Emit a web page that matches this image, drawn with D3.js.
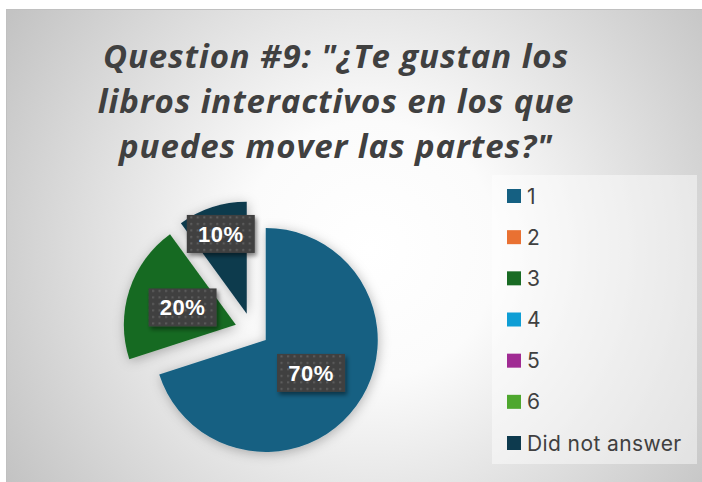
<!DOCTYPE html>
<html>
<head>
<meta charset="utf-8">
<script src="https://cdnjs.cloudflare.com/ajax/libs/d3/7.8.5/d3.min.js"></script>
<style>
  body { margin: 0; background: #fff; }
  svg { display: block; }
</style>
</head>
<body>
<div class="chart"></div>
<script>
// data
var categories = ["1", "2", "3", "4", "5", "6", "Did not answer"];
var values = [70, 0, 20, 0, 0, 0, 10];
var colors = ["#156082", "#E97132", "#196B24", "#0F9ED5", "#A02B93", "#4EA72E", "#0D3A4E"];
var titleLines = ['Question #9: "¿Te gustan los', 'libros interactivos en los que', 'puedes mover las partes?"'];

var W = 702, H = 482;
let svg = d3.select("div.chart").append("svg").attr("width", W).attr("height", H);
var defs = svg.append("defs");

// background gradient
var bg = defs.append("radialGradient").attr("id", "bg")
  .attr("gradientUnits", "userSpaceOnUse")
  .attr("cx", 370).attr("cy", 250).attr("r", 430);
bg.append("stop").attr("offset", "0").attr("stop-color", "#ffffff");
bg.append("stop").attr("offset", "0.3").attr("stop-color", "#fbfbfb");
bg.append("stop").attr("offset", "1").attr("stop-color", "#c3c3c3");

// dotted pattern for data labels
var pat = defs.append("pattern").attr("id", "dots")
  .attr("patternUnits", "userSpaceOnUse").attr("width", 6.5).attr("height", 6.5);
pat.append("rect").attr("width", 6.5).attr("height", 6.5).attr("fill", "#404040");
pat.append("rect").attr("x", 2).attr("y", 2).attr("width", 2).attr("height", 2).attr("fill", "#5e5e5e");

// shadows
var sh = defs.append("filter").attr("id", "pieShadow")
  .attr("x", "-30%").attr("y", "-30%").attr("width", "160%").attr("height", "160%");
sh.append("feDropShadow").attr("dx", 1).attr("dy", 2).attr("stdDeviation", 6)
  .attr("flood-color", "#000").attr("flood-opacity", 0.28);

var lsh = defs.append("filter").attr("id", "lblShadow")
  .attr("x", "-30%").attr("y", "-30%").attr("width", "160%").attr("height", "160%");
lsh.append("feDropShadow").attr("dx", 2).attr("dy", 3).attr("stdDeviation", 2)
  .attr("flood-color", "#000").attr("flood-opacity", 0.45);

// chart area
svg.append("rect").attr("x", 6.5).attr("y", 9.5).attr("width", W).attr("height", H)
  .attr("fill", "url(#bg)").attr("stroke", "#c0c0c0").attr("stroke-width", 1);

// title
svg.append("g").selectAll("text")
  .data(titleLines)
  .enter()
  .append("text")
  .attr("x", 336)
  .attr("y", (d, i) => 68 + i * 45)
  .attr("text-anchor", "middle")
  .style("font-family", "'Open Sans', sans-serif")
  .style("font-size", "33px")
  .style("letter-spacing", "0.9px")
  .style("font-weight", "bold")
  .style("font-style", "italic")
  .style("fill", "#404040")
  .text(d => d);

// pie
var cx = 252, cy = 330, radius = 112, explode = 17;
var total = d3.sum(values);
var pie = d3.pie().sort(null).value(d => d)(values);
var arc = d3.arc().innerRadius(0).outerRadius(radius);

function offset(d, dist) {
  var a = (d.startAngle + d.endAngle) / 2;
  return [Math.sin(a) * dist, -Math.cos(a) * dist];
}

var slices = pie.filter(d => d.value > 0);

var pieG = svg.append("g")
  .attr("transform", "translate(" + cx + "," + cy + ")")
  .attr("filter", "url(#pieShadow)");

pieG.selectAll("path")
  .data(slices)
  .enter()
  .append("path")
  .attr("transform", d => "translate(" + offset(d, explode) + ")")
  .attr("d", arc)
  .attr("fill", d => colors[d.index]);

// data labels
var fmt = d3.format(".0%");
var lbl = svg.append("g")
  .attr("transform", "translate(" + cx + "," + cy + ")")
  .selectAll("g")
  .data(slices)
  .enter()
  .append("g")
  .attr("transform", d => {
    var o = offset(d, explode);
    var rr = (d.value / total) < 0.15 ? radius * 0.75 : radius * 0.5;
    var c = offset(d, rr);
    return "translate(" + (o[0] + c[0]) + "," + (o[1] + c[1]) + ")";
  });

lbl.append("rect")
  .attr("x", -34).attr("y", -19)
  .attr("width", 68).attr("height", 38)
  .attr("fill", "url(#dots)")
  .attr("filter", "url(#lblShadow)");

lbl.append("text")
  .attr("text-anchor", "middle")
  .attr("y", 8)
  .style("font-family", "'Liberation Sans', Arial, sans-serif")
  .style("font-size", "22px")
  .style("letter-spacing", "0.5px")
  .style("font-weight", "bold")
  .style("fill", "#ffffff")
  .text(d => fmt(d.value / total));

// legend
svg.append("rect").attr("x", 492).attr("y", 175).attr("width", 205).attr("height", 289)
  .attr("fill", "#ffffff").attr("fill-opacity", 0.45);

var ly = d3.scalePoint().domain(categories).range([196, 443]);

var leg = svg.append("g").selectAll("g")
  .data(categories)
  .enter()
  .append("g")
  .attr("transform", d => "translate(507," + ly(d) + ")");

leg.append("rect")
  .attr("x", 0).attr("y", -7)
  .attr("width", 14).attr("height", 14)
  .attr("fill", (d, i) => colors[i]);

leg.append("text")
  .attr("x", 20).attr("y", 7.5)
  .style("font-family", "Inter, sans-serif")
  .style("font-size", "21px")
  .style("letter-spacing", "0.4px")
  .style("fill", "#404040")
  .text(d => d);
</script>
</body>
</html>
